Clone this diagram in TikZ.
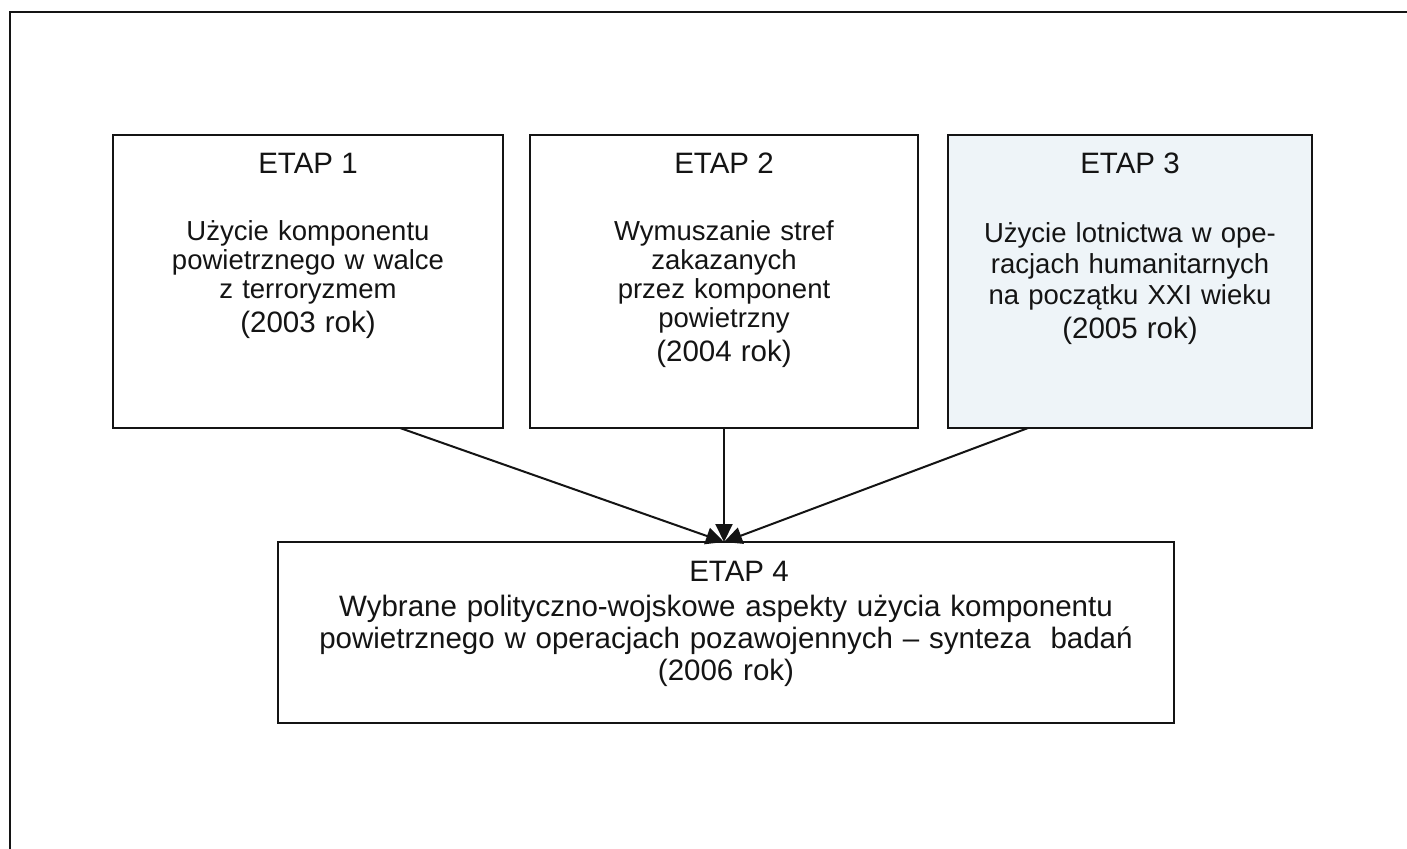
\documentclass[tikz,border=0pt]{standalone}
\usepackage{fontspec}
\setmainfont{Liberation Sans}
\usetikzlibrary{arrows.meta,calc}
\definecolor{ink}{HTML}{141414}
\definecolor{paleblue}{HTML}{EEF4F8}

\begin{document}
\begin{tikzpicture}[x=1pt,y=-1pt,
  stagebox/.style={draw=ink,line width=2pt,rectangle,inner sep=0pt,outer sep=0pt,anchor=north west},
  heading/.style={text=ink,anchor=base,inner sep=0pt,font=\fontsize{29.5pt}{33pt}\selectfont},
  body/.style={text=ink,anchor=base,inner sep=0pt,align=center,text width=380pt,
    font=\fontsize{27.5pt}{#1}\selectfont},
  body/.default=29pt,
  bigbody/.style={text=ink,anchor=base,inner sep=0pt,align=center,text width=880pt,
    font=\fontsize{29.5pt}{32pt}\selectfont},
  link/.style={draw=ink,line width=2pt,-{Triangle[length=18pt,width=17pt]}}]
  \newcommand{\yearfont}{\fontsize{29.5pt}{33pt}\selectfont}

  % canvas and outer frame
  \useasboundingbox (0,0) rectangle (1407,848);
  \clip (0,0) rectangle (1407,848);
  \fill[white] (0,0) rectangle (1407,848);
  \draw[ink,line width=2.5pt] (10,12) rectangle (1430,880);

  % stage boxes
  \node[stagebox,minimum width=390pt,minimum height=293pt] (b1) at (113,135) {};
  \node[stagebox,minimum width=388pt,minimum height=293pt] (b2) at (530,135) {};
  \node[stagebox,fill=paleblue,minimum width=364pt,minimum height=293pt] (b3) at (948,135) {};
  \node[stagebox,minimum width=896pt,minimum height=181pt] (b4) at (278,542) {};

  % stage 1
  \node[heading] (h1) at (308,173) {ETAP 1};
  \node[body] (t1) at (308,240) {Użycie komponentu\\powietrznego w walce\\z terroryzmem\\[5pt]{\yearfont (2003 rok)}};

  % stage 2
  \node[heading] (h2) at (724,173) {ETAP 2};
  \node[body] (t2) at (724,240) {Wymuszanie stref\\zakazanych\\przez komponent\\powietrzny\\[5pt]{\yearfont (2004 rok)}};

  % stage 3
  \node[heading] (h3) at (1130,173) {ETAP 3};
  \node[body=31pt] (t3) at (1130,242) {Użycie lotnictwa w ope-\\racjach humanitarnych\\na początku XXI wieku\\[3pt]{\yearfont (2005 rok)}};

  % stage 4
  \node[heading] (h4) at (739,581) {ETAP 4};
  \node[bigbody] (t4) at (726,616) {Wybrane polityczno-wojskowe aspekty użycia komponentu\\powietrznego w operacjach pozawojennych – synteza~ badań\\(2006 rok)};

  % connectors
  \draw[link] ($(b1.south west)!0.736!(b1.south east)$) -- (b4.north -| b2.south);
  \draw[link] (b2.south) -- (b4.north -| b2.south);
  \draw[link] ($(b3.south west)!0.22!(b3.south east)$) -- (b4.north -| b2.south);
\end{tikzpicture}
\end{document}
